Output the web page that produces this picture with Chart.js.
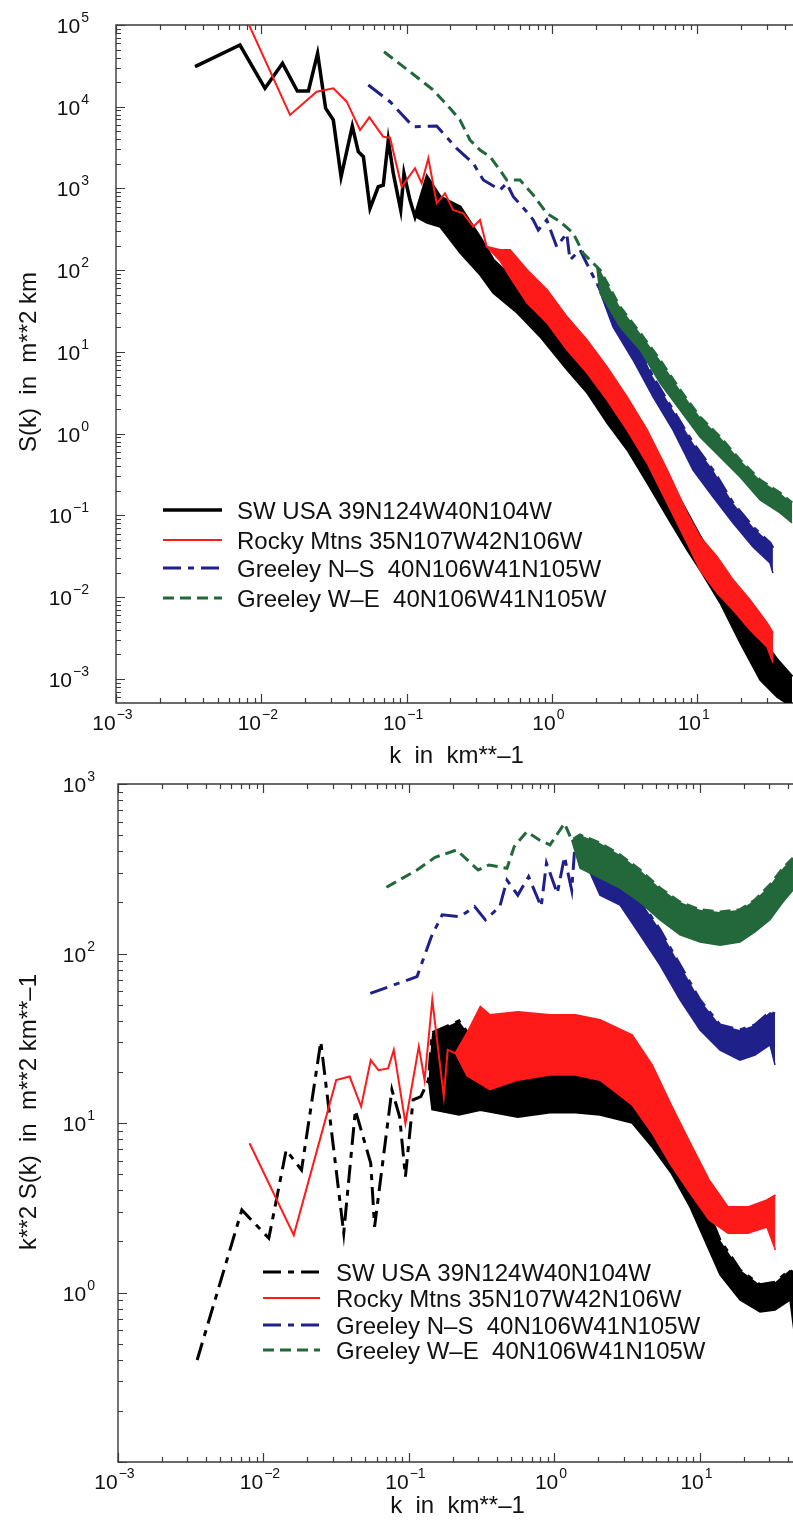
<!DOCTYPE html>
<html>
<head>
<meta charset="utf-8">
<script src="https://cdn.jsdelivr.net/npm/chart.js@4.4.0/dist/chart.umd.min.js"></script>
<style>
  html, body { margin: 0; padding: 0; background: #fff; }
  body { width: 793px; height: 1529px; position: relative; overflow: hidden; }
  canvas { position: absolute; left: 0; }
  #topChart { top: 0; }
  #bottomChart { top: 760px; }
</style>
</head>
<body>
<canvas id="topChart" width="793" height="780"></canvas>
<canvas id="bottomChart" width="793" height="769"></canvas>
<script>
// k in km**-1; each series: k, upper value, lower edge of the noisy band (aligned to the tail of k)
const topBlackK = [0.0035, 0.00713, 0.0106, 0.0140, 0.0177, 0.0211, 0.0244, 0.0277, 0.0313, 0.0354, 0.0423, 0.0465, 0.0504, 0.0560, 0.0638, 0.0691, 0.0748, 0.0810, 0.0911, 0.0959, 0.1055, 0.1142, 0.1381, 0.1698, 0.2331, 0.320, 0.393, 0.575, 0.828, 1.27, 1.744, 2.394, 3.287, 4.513, 6.198, 8.508, 10.45, 14.35, 19.71, 27.05, 35.42, 44.93];
const topBlackS = [3.09e4, 5.69e4, 1.68e4, 3.4e4, 1.56e4, 1.56e4, 4.5e4, 9.6e3, 6.9e3, 1.39e3, 5.8e3, 2.82e3, 2.45e3, 573, 1.05e3, 1.1e3, 3.92e3, 1.53e3, 546, 1.53e3, 723, 452, 1383, 787, 594, 248, 133.5, 69.8, 35.5, 15.3, 7.98, 4.18, 1.79, 0.771, 0.296, 0.107, 0.0546, 0.0215, 0.0085, 0.00326, 0.00171, 0.00106];
const topBlackLo = [452, 378, 338, 163, 87.5, 52.7, 30.0, 15.3, 6.0, 3.15, 1.35, 0.633, 0.250, 0.096, 0.0378, 0.0215, 0.0085, 0.00276, 0.00097, 0.0006, 0.000455];

const topRedK = [0.0077, 0.01576, 0.02406, 0.0313, 0.0387, 0.0478, 0.0554, 0.0691, 0.0769, 0.0925, 0.1142, 0.1270, 0.1411, 0.1611, 0.1837, 0.2086, 0.2456, 0.2877, 0.320, 0.3558, 0.4393, 0.5146, 0.674, 0.9254, 1.27, 1.744, 2.394, 3.287, 4.513, 6.198, 8.508, 10.45, 13.69, 17.64, 23.09, 30.23, 33.24];
const topRedS = [1.3e5, 7.93e3, 1.528e4, 1.68e4, 1.153e4, 5.19e3, 7.43e3, 4.30e3, 4.18e3, 1.05e3, 1.77e3, 1.157e3, 2.34e3, 659, 874, 546, 497, 341, 412, 194, 177, 177, 100.7, 57.3, 26.8, 14.0, 6.55, 2.82, 1.11, 0.360, 0.1073, 0.0546, 0.0311, 0.01626, 0.00925, 0.00484, 0.00365];
const topRedLo = [194, 130, 82.7, 39.8, 22.6, 10.6, 5.54, 2.59, 1.11, 0.4387, 0.1422, 0.0461, 0.0215, 0.01127, 0.00698, 0.00398, 0.00246, 0.00157];

const topBlueK = [0.0545, 0.0769, 0.1112, 0.1611, 0.2212, 0.2877, 0.3372, 0.4393, 0.4886, 0.5425, 0.6708, 0.7447, 0.806, 0.921, 1.079, 1.264, 1.332, 1.561, 2.034, 2.633, 3.615, 4.963, 6.815, 9.356, 12.85, 17.64, 24.21, 31.7, 33.2];
const topBlueS = [1.845e4, 1.153e4, 5.70e3, 5.81e3, 3.10e3, 2.03e3, 1.27e3, 959, 1.157e3, 794, 520, 412, 311, 412, 194, 283, 133.5, 177, 69.2, 32.6, 17.1, 4.95, 1.952, 0.771, 0.360, 0.1422, 0.0723, 0.0461, 0.04];
const topBlueLo = [69.2, 20.2, 7.98, 2.82, 1.11, 0.360, 0.1684, 0.0810, 0.0412, 0.0262, 0.0198];

const topGreenK = [0.0699, 0.1055, 0.1527, 0.1989, 0.2331, 0.2731, 0.320, 0.375, 0.4393, 0.4886, 0.6033, 0.7447, 0.921, 1.137, 1.404, 1.645, 2.034, 2.143, 2.942, 4.041, 5.546, 7.614, 10.45, 14.35, 19.71, 27.05, 37.13, 44.93];
const topGreenS = [4.71e4, 2.68e4, 1.60e4, 9.57e3, 6.88e3, 3.92e3, 2.96e3, 2.45e3, 1.68e3, 1.27e3, 1.27e3, 833, 497, 393, 283, 161, 110.5, 100.7, 35.5, 17.1, 7.98, 3.43, 1.603, 0.912, 0.4775, 0.2718, 0.1884, 0.1422];
const topGreenLo = [110.5, 52.7, 20.2, 10.6, 4.18, 1.952, 0.912, 0.519, 0.2957, 0.1548, 0.1073, 0.081];

// bottom panel: k**2 S(k)
const botBlackK = [0.0035, 0.0071, 0.01088, 0.01432, 0.01825, 0.02476, 0.0356, 0.0428, 0.0546, 0.058, 0.0763, 0.0862, 0.0945, 0.1067, 0.1206, 0.1361, 0.1439, 0.2206, 0.3095, 0.5596, 0.9313, 1.39, 2.054, 3.41, 4.68, 6.32, 8.54, 11.53, 13.73, 18.83, 25.85, 32.8, 41.55, 44.9];
const botBlackV = [0.40, 3.07, 2.09, 6.93, 5.28, 30.2, 2.24, 11.9, 5.78, 2.44, 15.7, 10.9, 4.82, 13.7, 14.3, 17.9, 34.0, 40.0, 26.9, 24.5, 21.4, 19.2, 17.9, 15.7, 11.9, 7.94, 5.07, 2.94, 2.04, 1.36, 1.11, 1.15, 1.36, 1.27];
const botBlackLo = [17.9, 12.0, 11.15, 11.9, 10.8, 11.5, 11.5, 11.15, 10.0, 7.22, 5.07, 3.19, 1.78, 1.27, 0.903, 0.767, 0.788, 0.903, 0.539];

const botRedK = [0.00802, 0.01615, 0.0316, 0.0391, 0.0469, 0.0546, 0.0617, 0.0719, 0.0786, 0.0945, 0.1168, 0.128, 0.1446, 0.1734, 0.1845, 0.2084, 0.250, 0.3095, 0.360, 0.5596, 0.9313, 1.39, 2.054, 3.41, 4.68, 6.32, 8.54, 11.53, 15.57, 21.38, 28.87, 33.0];
const botRedV = [7.59, 2.18, 17.9, 18.8, 12.5, 23.5, 20.5, 21.0, 27.0, 9.96, 28.2, 17.9, 53.2, 14.3, 27.0, 25.8, 33.8, 48.5, 43.4, 45.2, 43.4, 43.4, 40.5, 33.0, 22.0, 12.8, 7.62, 4.61, 3.19, 3.19, 3.51, 3.76];
const botRedLo = [25.8, 19.0, 17.0, 15.7, 17.9, 19.2, 19.2, 17.9, 12.8, 8.73, 5.65, 3.86, 2.68, 2.24, 2.24, 2.43, 1.78];

const botBlueK = [0.0542, 0.1135, 0.1426, 0.1691, 0.2248, 0.2824, 0.335, 0.4207, 0.4716, 0.5596, 0.6637, 0.810, 0.881, 1.045, 1.171, 1.313, 1.39, 2.054, 2.82, 3.869, 5.31, 7.29, 10.0, 13.73, 18.83, 23.88, 30.28, 32.8];
const botBlueV = [58.2, 73, 126, 169, 165, 189, 158, 189, 271, 221, 284, 189, 341, 226, 372, 237, 467, 408, 333, 207, 138, 85.5, 53.2, 37.9, 35.4, 37.9, 45.2, 44];
const botBlueLo = [467, 221, 193, 129, 85.5, 53.2, 35.4, 26.9, 23.5, 25.2, 28.9, 22];

const botGreenK = [0.0700, 0.1135, 0.151, 0.2124, 0.2989, 0.3546, 0.4716, 0.5284, 0.6451, 0.7874, 0.9313, 1.171, 1.313, 1.497, 2.054, 2.82, 3.869, 5.31, 7.29, 10.0, 13.73, 18.83, 23.88, 30.28, 37.19, 43.57];
const botGreenV = [246, 311, 369, 408, 311, 333, 318, 427, 523, 467, 437, 586, 467, 500, 449, 381, 311, 243, 201, 181, 176, 181, 207, 254, 319, 366];
const botGreenLo = [467, 319, 279, 243, 201, 158, 129, 117, 112, 117, 134, 158, 201, 237];

const seriesNames = ['SW USA 39N124W40N104W', 'Rocky Mtns 35N107W42N106W', 'Greeley N\u2013S  40N106W41N105W', 'Greeley W\u2013E  40N106W41N105W'];
const xDecades = [-3, -2, -1, 0, 1];
const topYDecades = [-3, -2, -1, 0, 1, 2, 3, 4, 5];
const botYDecades = [0, 1, 2, 3];

const FONT = '"Liberation Sans", Arial, Helvetica, sans-serif';
const colors = ['#000000', '#ff1a1a', '#20208a', '#23683b'];
const SOLID = [], DASHDOT = [18, 7, 6, 7], DASHED = [11, 6];
const topStyles = [{ dash: SOLID, width: 3.5 }, { dash: SOLID, width: 2 }, { dash: DASHDOT, width: 3 }, { dash: DASHED, width: 3 }];
const botStyles = [{ dash: DASHDOT, width: 3 }, { dash: SOLID, width: 2 }, { dash: DASHDOT, width: 3 }, { dash: DASHED, width: 3 }];

function buildDatasets(series, styles) {
    const sets = [];
    series.forEach(([k, v, lo], i) => {
        const off = k.length - lo.length;
        sets.push({
            data: k.map((kk, j) => ({ x: kk, y: v[j] })),
            borderColor: colors[i],
            borderWidth: styles[i].width,
            borderDash: styles[i].dash,
            fill: false,
            order: 10 - i
        });
        // lower edge of the noise band, filled up to the line above
        sets.push({
            data: lo.map((y, j) => ({ x: k[off + j], y })),
            borderColor: colors[i],
            backgroundColor: colors[i],
            borderWidth: 1.5,
            fill: '-1',
            order: 10 - i
        });
    });
    return sets;
}

function logTicks(scale) {
    const out = [];
    for (let d = Math.floor(Math.log10(scale.min)); d <= Math.ceil(Math.log10(scale.max)); d++) {
        for (let m = 1; m < 10; m++) {
            const v = m * Math.pow(10, d);
            if (v >= scale.min * 0.9999 && v <= scale.max * 1.0001) out.push({ v, major: m === 1 });
        }
    }
    return out;
}

function drawPow(ctx, exp, x, y, align) {
    ctx.font = '21px ' + FONT;
    const w1 = ctx.measureText('10').width;
    const sup = exp < 0 ? '\u2212' + (-exp) : String(exp);
    ctx.font = '14px ' + FONT;
    const w2 = ctx.measureText(sup).width;
    const x0 = align === 'right' ? x - w1 - w2 - 1 : x - (w1 + w2 + 1) / 2 - 3.5;
    ctx.font = '21px ' + FONT;
    ctx.fillText('10', x0, y);
    ctx.font = '14px ' + FONT;
    ctx.fillText(sup, x0 + w1 + 1, y - 11);
}

function makeFrame(cfg) {
    return {
        id: 'frame',
        beforeDatasetsDraw(chart) {
            const { ctx, chartArea: a } = chart;
            const xs = chart.scales.x, ys = chart.scales.y;
            ctx.save();
            ctx.strokeStyle = '#3a3a3a';
            ctx.lineWidth = 1.4;
            ctx.beginPath();
            ctx.moveTo(a.right, a.top);
            ctx.lineTo(a.left, a.top);
            ctx.lineTo(a.left, a.bottom);
            ctx.lineTo(a.right, a.bottom);
            ctx.stroke();

            ctx.lineWidth = 1.2;
            ctx.beginPath();
            logTicks(xs).forEach(t => {
                const px = Math.round(xs.getPixelForValue(t.v)) + 0.5;
                const len = t.major ? 9 : 5;
                ctx.moveTo(px, a.bottom); ctx.lineTo(px, a.bottom - len);
                ctx.moveTo(px, a.top); ctx.lineTo(px, a.top + len);
            });
            logTicks(ys).forEach(t => {
                const py = Math.round(ys.getPixelForValue(t.v)) + 0.5;
                const len = t.major ? 9 : 5;
                ctx.moveTo(a.left, py); ctx.lineTo(a.left + len, py);
            });
            ctx.stroke();

            ctx.fillStyle = '#111';
            ctx.textAlign = 'left';
            ctx.textBaseline = 'alphabetic';
            xDecades.forEach(d => drawPow(ctx, d, xs.getPixelForValue(Math.pow(10, d)), a.bottom + 27, 'center'));
            cfg.yDecades.forEach(d => drawPow(ctx, d, a.left - cfg.yLabelGap, ys.getPixelForValue(Math.pow(10, d)) + 8, 'right'));

            ctx.font = '24px ' + FONT;
            ctx.textAlign = 'center';
            ctx.fillText(cfg.xTitle, (a.left + a.right) / 2 + 2, a.bottom + cfg.xTitleGap);
            ctx.translate(36, cfg.yTitleY);
            ctx.rotate(-Math.PI / 2);
            ctx.fillText(cfg.yTitle, 0, 0);
            ctx.restore();
        }
    };
}

function makeKey(cfg) {
    return {
        id: 'key',
        afterDatasetsDraw(chart) {
            const ctx = chart.ctx;
            ctx.save();
            cfg.rows.forEach((ry, i) => {
                ctx.strokeStyle = colors[i];
                ctx.lineWidth = cfg.styles[i].width;
                ctx.setLineDash(cfg.styles[i].dash);
                ctx.beginPath();
                ctx.moveTo(cfg.x0, ry);
                ctx.lineTo(cfg.x1, ry);
                ctx.stroke();
                ctx.setLineDash([]);
                ctx.fillStyle = '#111';
                ctx.font = '24px ' + FONT;
                ctx.textAlign = 'left';
                ctx.fillText(seriesNames[i], cfg.textX, ry + 8.5);
            });
            ctx.restore();
        }
    };
}

function makeChart(id, series, styles, padding, xMax, yMin, yMax, frameCfg, keyCfg) {
    return new Chart(document.getElementById(id), {
        type: 'line',
        data: { datasets: buildDatasets(series, styles) },
        options: {
            responsive: false,
            animation: false,
            layout: { padding },
            elements: { point: { radius: 0 }, line: { tension: 0 } },
            plugins: { legend: { display: false }, tooltip: { enabled: false } },
            scales: {
                x: { type: 'logarithmic', min: 1e-3, max: xMax, display: false },
                y: { type: 'logarithmic', min: yMin, max: yMax, display: false }
            }
        },
        plugins: [makeFrame(frameCfg), makeKey(keyCfg)]
    });
}

makeChart('topChart',
    [[topBlackK, topBlackS, topBlackLo], [topRedK, topRedS, topRedLo], [topBlueK, topBlueS, topBlueLo], [topGreenK, topGreenS, topGreenLo]],
    topStyles,
    { left: 116, top: 25, right: 0, bottom: 77 },
    45.63, 5.086e-4, 1e5,
    { yDecades: topYDecades, yLabelGap: 27, xTitle: 'k  in  km**\u20131', xTitleGap: 60, yTitle: 'S(k)  in  m**2 km', yTitleY: 362 },
    { rows: [510, 540, 568, 598], x0: 163, x1: 222, textX: 237, styles: topStyles });

makeChart('bottomChart',
    [[botBlackK, botBlackV, botBlackLo], [botRedK, botRedV, botRedLo], [botBlueK, botBlueV, botBlueLo], [botGreenK, botGreenV, botGreenLo]],
    botStyles,
    { left: 118, top: 24, right: 0, bottom: 67 },
    43.58, 0.1, 1000,
    { yDecades: botYDecades, yLabelGap: 23, xTitle: 'k  in  km**\u20131', xTitleGap: 51, yTitle: 'k**2 S(k)  in  m**2 km**\u20131', yTitleY: 352 },
    { rows: [512, 538, 565, 590], x0: 263, x1: 320, textX: 336, styles: botStyles });
</script>
</body>
</html>
